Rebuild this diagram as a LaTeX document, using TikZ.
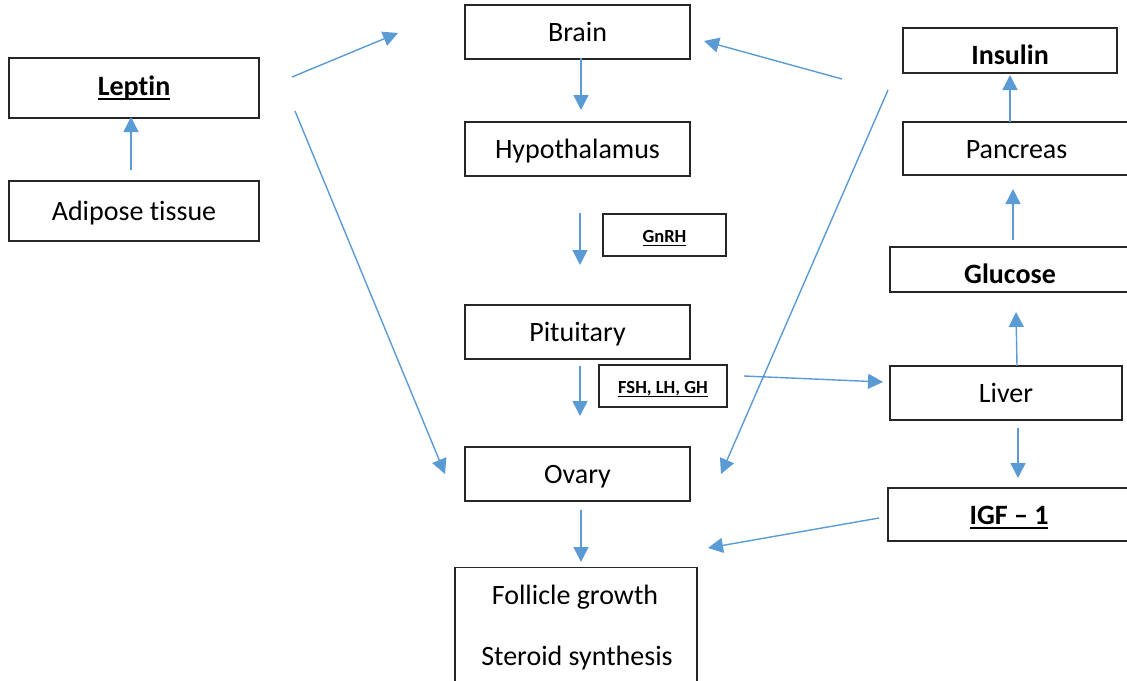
\documentclass[tikz,border=0pt]{standalone}
\usepackage{fontspec}
\setmainfont{Carlito}[RawFeature={-liga;-clig;-dlig}]
\usetikzlibrary{arrows.meta}
\definecolor{arrowblue}{HTML}{5B9BD5}
\newcommand\ulbig[1]{\setbox0\hbox{#1}\rlap{\rule[-5pt]{\wd0}{2pt}}\box0}
\newcommand\ulsmall[1]{\setbox0\hbox{#1}\rlap{\rule[-3.5pt]{\wd0}{1.5pt}}\box0}
\tikzset{
  box/.style={draw=black!85, line width=1.3pt, rectangle, inner sep=0pt,
    text height=19pt, text depth=0pt, font=\fontsize{28}{34}\selectfont},
  smallbox/.style={box, font=\fontsize{18.5}{22}\selectfont\bfseries, text height=15pt},
  plaintext/.style={inner sep=0pt, font=\fontsize{28}{34}\selectfont},
  conn/.style={draw=arrowblue, line width=1.4pt, -{Triangle[length=15pt,width=15pt]}}
}
\begin{document}
\begin{tikzpicture}[x=1pt,y=-1pt]
\useasboundingbox (0,0) rectangle (1127,680);
% central column
\node[box, minimum width=225, minimum height=54] (brain) at (577.5,32) {Brain};
\node[box, minimum width=225, minimum height=54] (hypo) at (577.5,149) {Hypothalamus};
\node[smallbox, minimum width=123, minimum height=42] (gnrh) at (664.5,235) {\ulsmall{GnRH}};
\node[box, minimum width=225, minimum height=54] (pit) at (577.5,332) {Pituitary};
\node[smallbox, minimum width=128, minimum height=42] (fsh) at (663,386) {\ulsmall{FSH, LH, GH}};
\node[box, minimum width=225, minimum height=54] (ovary) at (577.5,474) {Ovary};
\node[box, minimum width=242, minimum height=140, anchor=north] (foll) at (576,567) {};
\node[plaintext, anchor=base] (fg) at (575,604) {Follicle growth};
\node[plaintext, anchor=base] (ss) at (577,665) {Steroid synthesis};
% left column
\node[box, minimum width=250, minimum height=60, text height=14pt, font=\fontsize{28}{34}\selectfont\bfseries] (leptin) at (134,88) {\ulbig{Leptin}};
\node[box, minimum width=250, minimum height=60] (adipose) at (134,211) {Adipose tissue};
% right column
\node[box, minimum width=214, minimum height=45, text height=27pt, font=\fontsize{28}{34}\selectfont\bfseries] (insulin) at (1010,50.5) {Insulin};
\node[box, minimum width=240, minimum height=53] (pancreas) at (1023,148.5) {\hspace*{-13pt}Pancreas};
\node[box, minimum width=250, minimum height=45, text height=27pt, font=\fontsize{28}{34}\selectfont\bfseries] (glucose) at (1015,269.5) {\hspace*{-10pt}Glucose};
\node[box, minimum width=232, minimum height=54] (liver) at (1006,393) {Liver};
\node[box, minimum width=252, minimum height=53, font=\fontsize{28}{34}\selectfont\bfseries] (igf) at (1014,514.5) {\hspace*{-10pt}\ulbig{IGF -- 1}};
% connector end points
\coordinate (a1s) at (581,58);   \coordinate (a1e) at (581,110);
\coordinate (a2s) at (580,213);  \coordinate (a2e) at (580,265);
\coordinate (a3s) at (580,366);  \coordinate (a3e) at (580,416);
\coordinate (a4s) at (581,510);  \coordinate (a4e) at (581,562);
\coordinate (a5s) at (131,170);  \coordinate (a5e) at (131,117);
\coordinate (a6s) at (292,77);   \coordinate (a6e) at (398,33);
\coordinate (a7s) at (295,111);  \coordinate (a7e) at (445,474);
\coordinate (a8s) at (842,79);   \coordinate (a8e) at (704,41);
\coordinate (a9s) at (888,90);   \coordinate (a9e) at (721,474);
\coordinate (a10s) at (1010,122); \coordinate (a10e) at (1010,75);
\coordinate (a11s) at (1013,240); \coordinate (a11e) at (1013,189);
\coordinate (a12s) at (1017,366); \coordinate (a12e) at (1016,312);
\coordinate (a13s) at (744,376);  \coordinate (a13e) at (883,382);
\coordinate (a14s) at (1018,428); \coordinate (a14e) at (1018,478);
\coordinate (a15s) at (879,518);  \coordinate (a15e) at (708,548);
% connectors
\draw[conn] (a1s) -- (a1e);
\draw[conn] (a2s) -- (a2e);
\draw[conn] (a3s) -- (a3e);
\draw[conn] (a4s) -- (a4e);
\draw[conn] (a5s) -- (a5e);
\draw[conn] (a6s) -- (a6e);
\draw[conn] (a7s) -- (a7e);
\draw[conn] (a8s) -- (a8e);
\draw[conn] (a9s) -- (a9e);
\draw[conn] (a10s) -- (a10e);
\draw[conn] (a11s) -- (a11e);
\draw[conn] (a12s) -- (a12e);
\draw[conn] (a13s) -- (a13e);
\draw[conn] (a14s) -- (a14e);
\draw[conn] (a15s) -- (a15e);
\end{tikzpicture}
\end{document}
